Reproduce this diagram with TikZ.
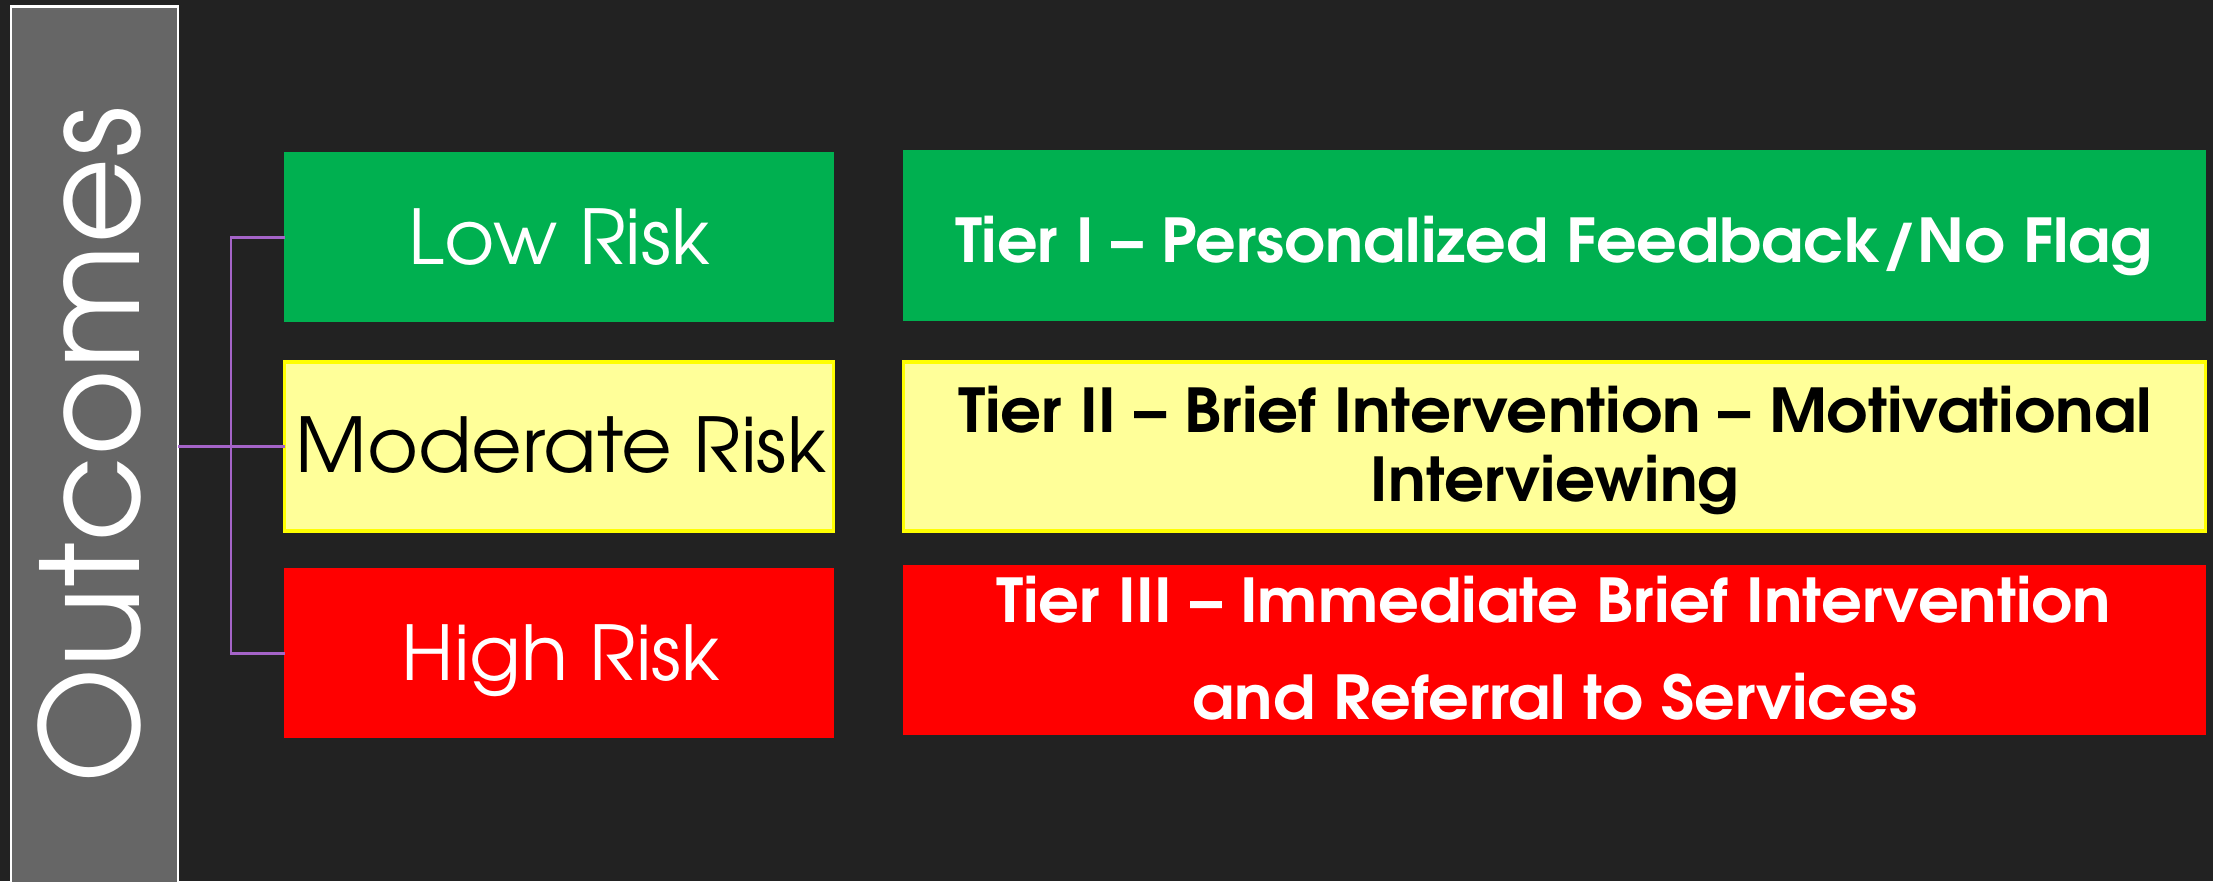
\documentclass[tikz,border=0pt]{standalone}
\usepackage{graphicx}
\usepackage{fontspec}
\setmainfont{texgyreadventor}[Extension=.otf, UprightFont=*-regular, BoldFont=*-bold]
\definecolor{bg}{RGB}{34,34,34}
\definecolor{obox}{RGB}{102,102,102}
\definecolor{gbox}{RGB}{0,176,80}
\definecolor{yfill}{RGB}{255,255,153}
\definecolor{yline}{RGB}{255,255,0}
\definecolor{rbox}{RGB}{255,0,0}
\definecolor{conn}{RGB}{165,100,200}
\newcommand\myfitw[2]{\setbox0=\hbox{#2}\pgfmathsetmacro\myscl{#1/\the\wd0}\scalebox{\myscl}[1]{\box0}}
\tikzset{
  riskbox/.style={rectangle, inner sep=0pt, outer sep=0pt, minimum width=5.48cm, minimum height=1.69cm},
  tierbox/.style={rectangle, inner sep=0pt, outer sep=0pt, minimum width=13.01cm, minimum height=1.69cm},
  greenbox/.style={fill=gbox, draw=gbox, line width=0.4pt},
  yellowbox/.style={fill=yfill, draw=yline, line width=0.9pt},
  redbox/.style={fill=rbox, draw=rbox, line width=0.4pt},
  risktxt/.style={anchor=base, inner sep=0pt, font=\fontsize{21.5pt}{26pt}\selectfont},
  tiertxt/.style={anchor=base, inner sep=0pt, font=\bfseries\fontsize{17.2pt}{20pt}\selectfont},
  connline/.style={draw=conn, line width=0.85pt}
}
\begin{document}
\begin{tikzpicture}[x=0.01cm, y=-0.01cm]
\useasboundingbox (0,0) rectangle (2213,881);
\fill[bg] (0,0) rectangle (2213,881);
\clip (0,0) rectangle (2213,881);
% Outcomes box
\node[rectangle, inner sep=0pt, outer sep=0pt, fill=obox, draw=white, line width=0.75pt,
      minimum width=1.67cm, minimum height=9.06cm] (outbox) at (94.5,460) {};
\node[inner sep=0pt, text=white, font=\fontsize{38.5pt}{44pt}\selectfont] (outtxt) at (89,445)
  {\rotatebox{90}{\myfitw{6.77cm}{Outcomes}}};
% risk boxes
\node[riskbox, greenbox] (low) at (559,237) {};
\node[riskbox, yellowbox] (mod) at (559,446.5) {};
\node[riskbox, redbox] (high) at (559,653) {};
\node[risktxt, text=white] (lowtxt) at (559.5,264) {\myfitw{3.01cm}{Low Risk}};
\node[risktxt, text=black] (modtxt) at (561,472) {\myfitw{5.30cm}{Moderate Risk}};
\node[risktxt, text=white] (hightxt) at (561,680) {\myfitw{3.18cm}{High Risk}};
% tier boxes
\node[tierbox, greenbox] (t1) at (1554.5,235.5) {};
\node[tierbox, yellowbox] (t2) at (1554.5,446.5) {};
\node[tierbox, redbox] (t3) at (1554.5,650) {};
\node[tiertxt, text=white] (t1a) at (1554,262.5) {\myfitw{11.97cm}{Tier I – Personalized Feedback/No Flag}};
\node[tiertxt, text=black] (t2a) at (1555,432.5) {\myfitw{11.93cm}{Tier II – Brief Intervention – Motivational}};
\node[tiertxt, text=black] (t2b) at (1555,501.7) {\myfitw{3.68cm}{Interviewing}};
\node[tiertxt, text=white] (t3a) at (1554,622) {\myfitw{11.14cm}{Tier III – Immediate Brief Intervention}};
\node[tiertxt, text=white] (t3b) at (1555,719) {\myfitw{7.24cm}{and Referral to Services}};
% connectors
\coordinate (bar) at (231,446.5);
\draw[connline] (low.west) -| (bar) |- (high.west);
\draw[connline] (outbox.east |- mod.west) -- (mod.west);
\end{tikzpicture}
\end{document}
